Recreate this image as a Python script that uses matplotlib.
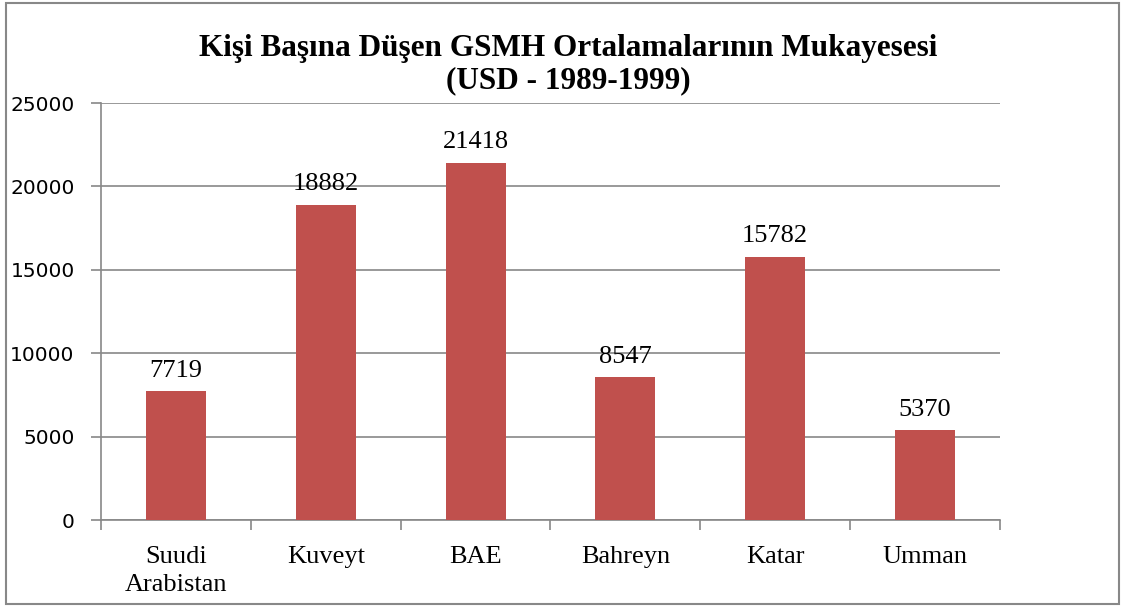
import matplotlib
matplotlib.use('Agg')
import matplotlib.pyplot as plt
from matplotlib.patches import Rectangle

# data
countries = ['Suudi\nArabistan', 'Kuveyt', 'BAE', 'Bahreyn', 'Katar', 'Umman']
gnp_avg = [7719, 18882, 21418, 8547, 15782, 5370]
yticks = [0, 5000, 10000, 15000, 20000, 25000]

serif = 'Liberation Serif'
grey = '#888888'

fig = plt.figure(figsize=(11.25, 6.07), dpi=100)
ax = fig.add_axes([0.0898, 0.1433, 0.799, 0.687])

x = range(len(countries))
bars = ax.bar(x, gnp_avg, width=0.4, color='#C0504D', zorder=3)

# value labels above bars
for b, v in zip(bars, gnp_avg):
    ax.annotate(str(v), (b.get_x() + b.get_width() / 2, v),
                xytext=(0, 7), textcoords='offset points',
                ha='center', va='bottom', family=serif, fontsize=19)

ax.set_xlim(-0.5, len(countries) - 0.5)
ax.set_ylim(0, 25000)
ax.set_yticks(yticks)
ax.set_yticklabels([str(t) for t in yticks], family='DejaVu Sans', fontsize=14.5)
ax.yaxis.grid(True, color=grey, linewidth=1.2, zorder=0)

# category labels in the middle, ticks on the boundaries
ax.set_xticks(list(x))
ax.set_xticklabels(countries, family=serif, fontsize=19, linespacing=1.35)
ax.tick_params(axis='x', which='major', length=0, pad=19)
ax.set_xticks([i - 0.5 for i in range(len(countries) + 1)], minor=True)
ax.tick_params(axis='x', which='minor', length=7, width=1.2, color=grey, direction='out')
ax.tick_params(axis='y', length=7, width=1.2, color=grey, direction='out', pad=12)

for s in ['top', 'right']:
    ax.spines[s].set_visible(False)
for s in ['left', 'bottom']:
    ax.spines[s].set_color(grey)
    ax.spines[s].set_linewidth(1.2)

fig.text(0.505, 0.894, 'Kişi Başına Düşen GSMH Ortalamalarının Mukayesesi\n(USD - 1989-1999)',
         ha='center', va='center', family=serif, fontweight='bold', fontsize=22.5,
         linespacing=1.15)

# chart frame
fig.patches.append(Rectangle((6 / 1125, 3 / 607), 1113 / 1125, 601 / 607,
                             transform=fig.transFigure, fill=False,
                             edgecolor=grey, linewidth=1.5))

fig.savefig('out.png', dpi=100)
